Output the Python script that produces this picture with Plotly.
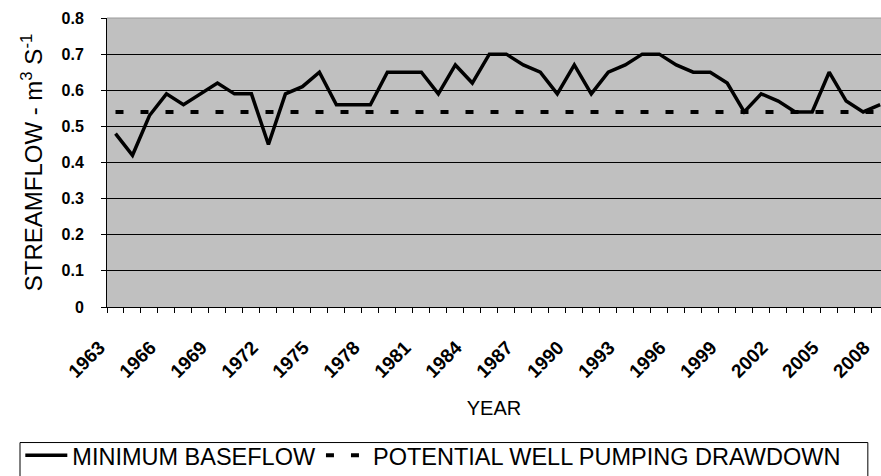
import plotly.graph_objects as go

# Annual minimum baseflow, 1963-2008 (m3/s)
years = list(range(1963, 2009))
min_baseflow = [
    0.48, 0.42, 0.53, 0.59, 0.56, 0.59, 0.62, 0.59, 0.59, 0.45,
    0.59, 0.61, 0.65, 0.56, 0.56, 0.56, 0.65, 0.65, 0.65, 0.59,
    0.67, 0.62, 0.70, 0.70, 0.67, 0.65, 0.59, 0.67, 0.59, 0.65,
    0.67, 0.70, 0.70, 0.67, 0.65, 0.65, 0.62, 0.54, 0.59, 0.57,
    0.54, 0.54, 0.65, 0.57, 0.54, 0.56,
]
# Streamflow level at which well pumping would draw the stream down
drawdown_level = 0.54
drawdown = [drawdown_level] * len(years)

label_years = years[::3]
y_ticks = [0, 0.1, 0.2, 0.3, 0.4, 0.5, 0.6, 0.7, 0.8]
y_ticktext = ["0", "0.1", "0.2", "0.3", "0.4", "0.5", "0.6", "0.7", "0.8"]

FONT = "Liberation Sans, Arial, sans-serif"

fig = go.Figure()
fig.add_trace(go.Scatter(
    x=years, y=min_baseflow, mode="lines", name="MINIMUM BASEFLOW",
    line=dict(color="black", width=3.5),
))
fig.add_trace(go.Scatter(
    x=years, y=drawdown, mode="lines", name="POTENTIAL WELL PUMPING DRAWDOWN",
    line=dict(color="black", width=4, dash="8px,17px"),
))

fig.update_layout(
    width=881, height=476,
    margin=dict(l=107, r=0, t=18, b=169, autoexpand=False),
    paper_bgcolor="white",
    plot_bgcolor="#c0c0c0",
    font=dict(family=FONT, color="black"),
    showlegend=True,
    legend=dict(
        orientation="h", x=-0.112, xanchor="left", y=-0.438, yanchor="top",
        borderwidth=0, bgcolor="rgba(0,0,0,0)",
        font=dict(size=23.5, family=FONT), itemwidth=42,
    ),
)

fig.update_xaxes(
    range=[years[0] - 0.5, years[-1] + 0.05], automargin=False,
    tickmode="array", tickvals=label_years, ticktext=[str(y) for y in label_years],
    tickangle=-45, ticks="", ticklabelshift=-16, ticklabelstandoff=21,
    ticklabeloverflow="allow",
    tickfont=dict(size=19, family=FONT, weight="bold"),
    showgrid=False, zeroline=False,
    showline=True, linecolor="black", linewidth=1,
    minor=dict(tickmode="array", tickvals=[y - 0.5 for y in years],
               ticks="outside", ticklen=5, tickcolor="black", showgrid=False),
    title=dict(text="YEAR", font=dict(size=20, family=FONT), standoff=20),
)

fig.update_yaxes(
    range=[0, 0.8], automargin=False,
    tickmode="array", tickvals=y_ticks, ticktext=y_ticktext,
    ticks="outside", ticklen=5, tickcolor="black", ticklabelstandoff=14,
    tickfont=dict(size=16, family=FONT, weight="bold"),
    showgrid=True, gridcolor="black", gridwidth=1, zeroline=False,
    showline=True, linecolor="black", linewidth=1,
    title=dict(text="STREAMFLOW - m<sup>3</sup> S<sup>-1</sup>",
               font=dict(size=24, family=FONT), standoff=12),
)

# light frame along the top of the plotting area
fig.add_shape(type="line", xref="paper", yref="paper", x0=0, x1=1, y0=1, y1=1,
              line=dict(color="#9a9a9a", width=1))
# frame drawn around the legend row
fig.add_shape(type="rect", xref="paper", yref="paper",
              x0=-0.1124, x1=0.983, y0=-0.469, y1=-0.62,
              line=dict(color="black", width=1), fillcolor="rgba(0,0,0,0)",
              layer="below")

fig.write_html("out.html")
